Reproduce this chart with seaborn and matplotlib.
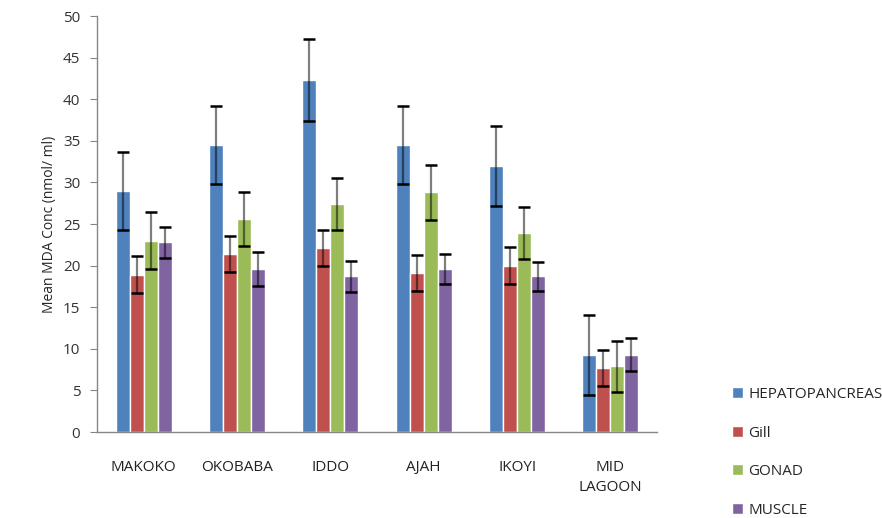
import pandas as pd
import matplotlib
matplotlib.use('Agg')
import matplotlib.pyplot as plt
import seaborn as sns

# Data
sites = ['MAKOKO', 'OKOBABA', 'IDDO', 'AJAH', 'IKOYI', 'MID\nLAGOON']
tissues = ['HEPATOPANCREAS', 'Gill', 'GONAD', 'MUSCLE']

hepato = [29.0, 34.5, 42.3, 34.5, 32.0, 9.3]
gill = [18.9, 21.4, 22.1, 19.1, 20.0, 7.7]
gonad = [23.0, 25.6, 27.4, 28.8, 23.9, 7.9]
muscle = [22.8, 19.6, 18.7, 19.6, 18.7, 9.3]

hepato_err = [4.7, 4.7, 4.9, 4.7, 4.8, 4.8]
gill_err = [2.2, 2.2, 2.2, 2.2, 2.2, 2.2]
gonad_err = [3.4, 3.3, 3.1, 3.3, 3.1, 3.1]
muscle_err = [1.9, 2.0, 1.9, 1.8, 1.7, 2.0]

colors = ['#4F81BD', '#C0504D', '#9BBB59', '#8064A2']

values = [hepato, gill, gonad, muscle]
errors = [hepato_err, gill_err, gonad_err, muscle_err]

rows = []
for t, vals in zip(tissues, values):
    for s, v in zip(sites, vals):
        rows.append({'Site': s, 'Tissue': t, 'MDA': v})
df = pd.DataFrame(rows)

sns.set_style('white')
plt.rcParams['font.family'] = ['Open Sans', 'DejaVu Sans']

fig = plt.figure(figsize=(8.82, 5.18), dpi=100)
ax = fig.add_axes([0.11, 0.166, 0.635, 0.803])

sns.barplot(data=df, x='Site', y='MDA', hue='Tissue', order=sites,
            hue_order=tissues, palette=colors, width=0.6, saturation=1,
            errorbar=None, ax=ax)

# error bars on each bar
for cont, errs in zip(ax.containers, errors):
    for bar, e in zip(cont, errs):
        xc = bar.get_x() + bar.get_width() / 2
        h = bar.get_height()
        line, caps, bars = ax.errorbar(xc, h, yerr=e, fmt='none', ecolor='black',
                                       elinewidth=1.6, capsize=4.5, capthick=1.8,
                                       alpha=0.5)
        for c in caps:
            c.set_alpha(1)

ax.set_ylim(0, 50)
ax.set_yticks(range(0, 51, 5))
ax.set_xlim(-0.5, len(sites) - 0.5)
ax.set_xlabel('')
ax.set_ylabel('Mean MDA Conc (nmol/ ml)', fontsize=10)

for side in ['top', 'right']:
    ax.spines[side].set_visible(False)
for side in ['left', 'bottom']:
    ax.spines[side].set_color('#868686')
    ax.spines[side].set_linewidth(1)

ax.tick_params(axis='y', which='both', left=True, length=5, color='#868686',
               labelsize=11, pad=7, labelcolor='#333333')
ax.tick_params(axis='x', length=0, labelsize=11, pad=20, labelcolor='#222222')
for lbl in ax.get_xticklabels():
    lbl.set_linespacing(1.45)

ax.legend(loc='upper left', bbox_to_anchor=(0.823, 0.265), bbox_transform=fig.transFigure,
          frameon=False, fontsize=11, handlelength=0.75, handleheight=0.75,
          handletextpad=0.3, labelspacing=1.55, borderaxespad=0)

fig.savefig('out.png', dpi=100)
